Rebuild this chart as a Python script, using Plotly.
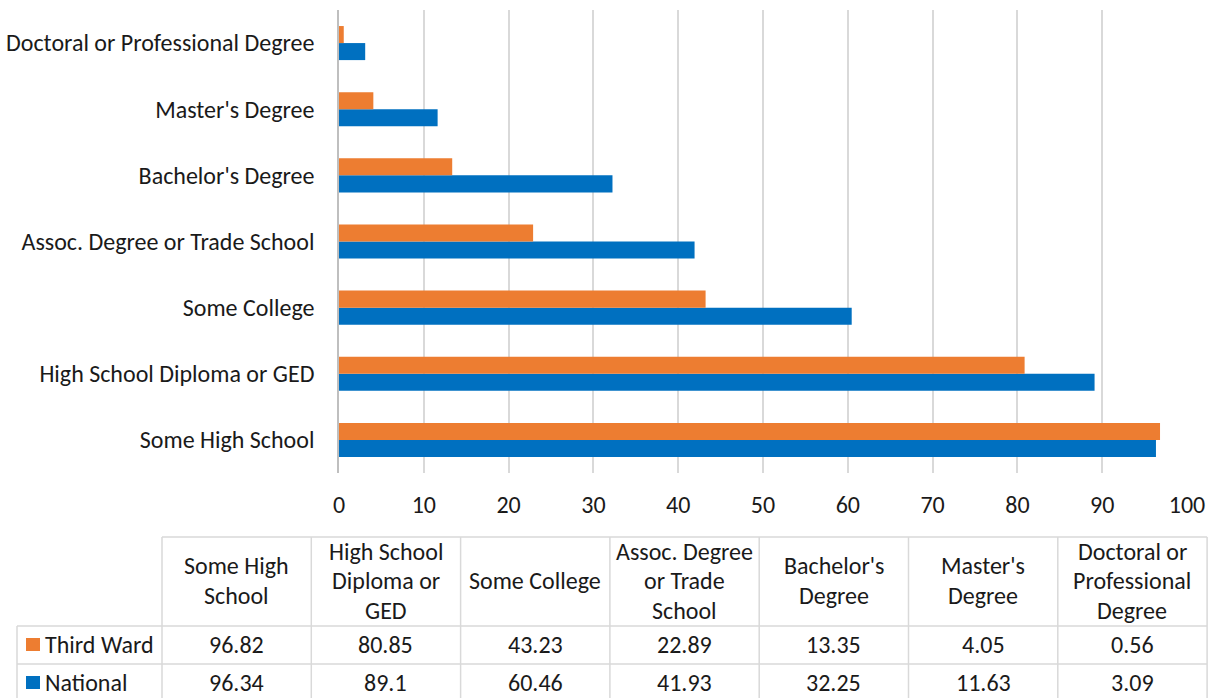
import plotly.graph_objects as go

# Education attainment shares (%), listed bottom-to-top on the chart
categories = [
    "Some High School",
    "High School Diploma or GED",
    "Some College",
    "Assoc. Degree or Trade School",
    "Bachelor's Degree",
    "Master's Degree",
    "Doctoral or Professional Degree",
]
table_headers = [
    ["Some High", "School"],
    ["High School", "Diploma or", "GED"],
    ["Some College"],
    ["Assoc. Degree", "or Trade", "School"],
    ["Bachelor's", "Degree"],
    ["Master's", "Degree"],
    ["Doctoral or", "Professional", "Degree"],
]
third_ward = [96.82, 80.85, 43.23, 22.89, 13.35, 4.05, 0.56]
national = [96.34, 89.1, 60.46, 41.93, 32.25, 11.63, 3.09]
x_ticks = list(range(0, 101, 10))

W, H = 1214, 698
ORANGE = "#ED7D31"
BLUE = "#0070C0"
GRID = "#d9d9d9"
FONT = "Carlito, Calibri, Lato, sans-serif"
TXT = "#1a1a1a"
FS = 24
LINE_H = 29.5


def px(x):
    return x / W


def py(y):
    return 1 - y / H


fig = go.Figure()
fig.add_trace(go.Bar(y=categories, x=national, orientation="h", name="National",
                     marker=dict(color=BLUE, line=dict(width=0))))
fig.add_trace(go.Bar(y=categories, x=third_ward, orientation="h", name="Third Ward",
                     marker=dict(color=ORANGE, line=dict(width=0))))

fig.update_layout(
    template="none",
    width=W, height=H, autosize=False,
    margin=dict(l=0, r=0, t=0, b=0, pad=0),
    paper_bgcolor="white", plot_bgcolor="white",
    barmode="group", bargap=0.485, bargroupgap=0,
    showlegend=False,
    font=dict(family=FONT, size=FS, color=TXT),
    xaxis=dict(domain=[px(339), px(1187)], range=[0, 100], tickvals=x_ticks,
               showgrid=True, gridcolor=GRID, gridwidth=1.5, zeroline=False,
               showline=False, ticks="", ticklabelstandoff=15, automargin=False,
               tickfont=dict(size=FS, family=FONT, color=TXT), fixedrange=True),
    yaxis=dict(domain=[py(473), py(10)], categoryorder="array", categoryarray=categories,
               showgrid=False, showline=True, linecolor="#bfbfbf", linewidth=1.5,
               zeroline=False, ticks="", ticklabelstandoff=18, automargin=False,
               tickfont=dict(size=FS, family=FONT, color=TXT), fixedrange=True),
)

# Data table beneath the chart
col_edges = [162 + i * 149.3 for i in range(len(categories) + 1)]
header_top, header_bot = 537, 626
row_h = 38
row_tops = [header_bot, header_bot + row_h]
table_bot = header_bot + 2 * row_h
left_edge = 17

shapes = []


def hline(x0, x1, y):
    shapes.append(dict(type="line", xref="paper", yref="paper", x0=px(x0), x1=px(x1),
                       y0=py(y), y1=py(y), line=dict(color=GRID, width=1.5)))


def vline(x, y0, y1):
    shapes.append(dict(type="line", xref="paper", yref="paper", x0=px(x), x1=px(x),
                       y0=py(y0), y1=py(y1), line=dict(color=GRID, width=1.5)))


hline(col_edges[0], col_edges[-1], header_top)
hline(left_edge, col_edges[-1], header_bot)
hline(left_edge, col_edges[-1], header_bot + row_h)
hline(left_edge, col_edges[-1], table_bot)
vline(left_edge, header_bot, table_bot)
for xe in col_edges:
    vline(xe, header_top, table_bot)

annotations = []
header_mid = (header_top + header_bot) / 2 - 1
for i, lines in enumerate(table_headers):
    cx = (col_edges[i] + col_edges[i + 1]) / 2
    n = len(lines)
    for k, line in enumerate(lines):
        ly = header_mid + (k - (n - 1) / 2) * LINE_H
        annotations.append(dict(xref="paper", yref="paper", x=px(cx), y=py(ly),
                                text=line, showarrow=False, xanchor="center", yanchor="middle",
                                font=dict(size=FS, family=FONT, color=TXT)))

series = [("Third Ward", third_ward, ORANGE), ("National", national, BLUE)]
for r, (name, vals, color) in enumerate(series):
    cy = row_tops[r] + row_h / 2 - 1
    shapes.append(dict(type="rect", xref="paper", yref="paper",
                       x0=px(26), x1=px(40), y0=py(cy - 6), y1=py(cy + 7),
                       fillcolor=color, line=dict(width=0)))
    annotations.append(dict(xref="paper", yref="paper", x=px(43), y=py(cy), text=name,
                            showarrow=False, xanchor="left", yanchor="middle",
                            font=dict(size=FS, family=FONT, color=TXT)))
    for i, v in enumerate(vals):
        cx = (col_edges[i] + col_edges[i + 1]) / 2
        annotations.append(dict(xref="paper", yref="paper", x=px(cx), y=py(cy), text=f"{v:g}",
                                showarrow=False, xanchor="center", yanchor="middle",
                                font=dict(size=FS, family=FONT, color=TXT)))

fig.update_layout(shapes=shapes, annotations=annotations)
fig.write_html("out.html")
